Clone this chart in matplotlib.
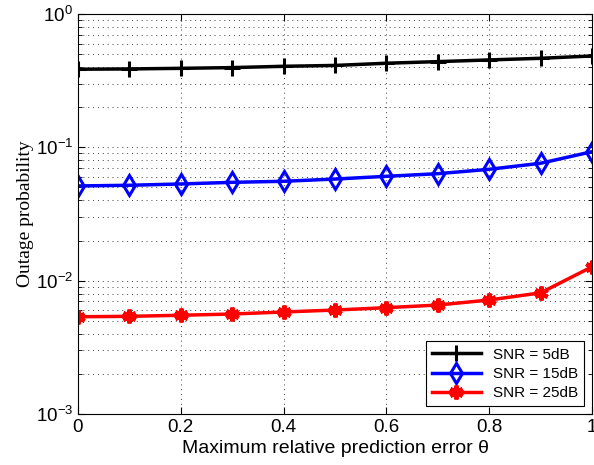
import numpy as np
import matplotlib.pyplot as plt
from matplotlib.ticker import LogLocator, NullFormatter

theta = [0, 0.1, 0.2, 0.3, 0.4, 0.5, 0.6, 0.7, 0.8, 0.9, 1.0]
snr5 = [0.385, 0.387, 0.391, 0.396, 0.405, 0.411, 0.427, 0.439, 0.452, 0.465, 0.484]
snr15 = [0.0513, 0.0519, 0.0531, 0.0546, 0.0556, 0.0578, 0.0606, 0.0634, 0.0684, 0.0759, 0.0927]
snr25 = [0.00536, 0.0054, 0.0055, 0.00562, 0.00582, 0.00602, 0.00627, 0.00656, 0.00716, 0.0081, 0.0127]
labels = ['SNR = 5dB', 'SNR = 15dB', 'SNR = 25dB']

plt.rcParams['font.family'] = ['Liberation Sans', 'DejaVu Sans']

fig = plt.figure(figsize=(5.94, 4.65), dpi=100)
ax = fig.add_axes([0.1313, 0.1097, 0.8653, 0.8603])

ax.semilogy(theta, snr5, color='black', lw=2.5, marker='+', ms=11, mew=2.2, label=labels[0])
ax.semilogy(theta, snr15, color='#0000ff', lw=2.5, marker='d', ms=10, mew=2.2,
            mfc='none', label=labels[1])
ax.semilogy(theta, snr25, color='red', lw=2.5, marker=(6, 2, 0), ms=10, mew=3,
            label=labels[2])

ax.set_xlim(0, 1)
ax.set_ylim(1e-3, 1)
ax.set_xticks([0, 0.2, 0.4, 0.6, 0.8, 1])
ax.set_xticklabels(['0', '0.2', '0.4', '0.6', '0.8', '1'])
ax.yaxis.set_major_locator(LogLocator(base=10, numticks=10))
ax.yaxis.set_minor_locator(LogLocator(base=10, subs=np.arange(2, 10), numticks=10))
ax.yaxis.set_minor_formatter(NullFormatter())

ax.tick_params(which='both', direction='in', top=True, right=True, labelsize=13.5)
ax.tick_params(which='major', length=5, width=0.8)
ax.tick_params(which='minor', length=3, width=0.6)
dots = (0, (1, 4))
ax.grid(True, which='major', axis='x', ls=dots, color='0.25', lw=0.7)
ax.grid(True, which='both', axis='y', ls=dots, color='0.25', lw=0.7)
for s in ax.spines.values():
    s.set_linewidth(0.8)

ax.set_xlabel('Maximum relative prediction error θ', fontsize=14, labelpad=3)
ax.set_ylabel('Outage probability', fontsize=14, family=['Liberation Serif'], labelpad=1)

leg = ax.legend(loc='lower right', fontsize=11, fancybox=False, edgecolor='black',
                framealpha=1, borderaxespad=0.5, handlelength=3.2, borderpad=0.4,
                labelspacing=0.35)
leg.get_frame().set_linewidth(0.8)

fig.savefig('out.png', dpi=100)
